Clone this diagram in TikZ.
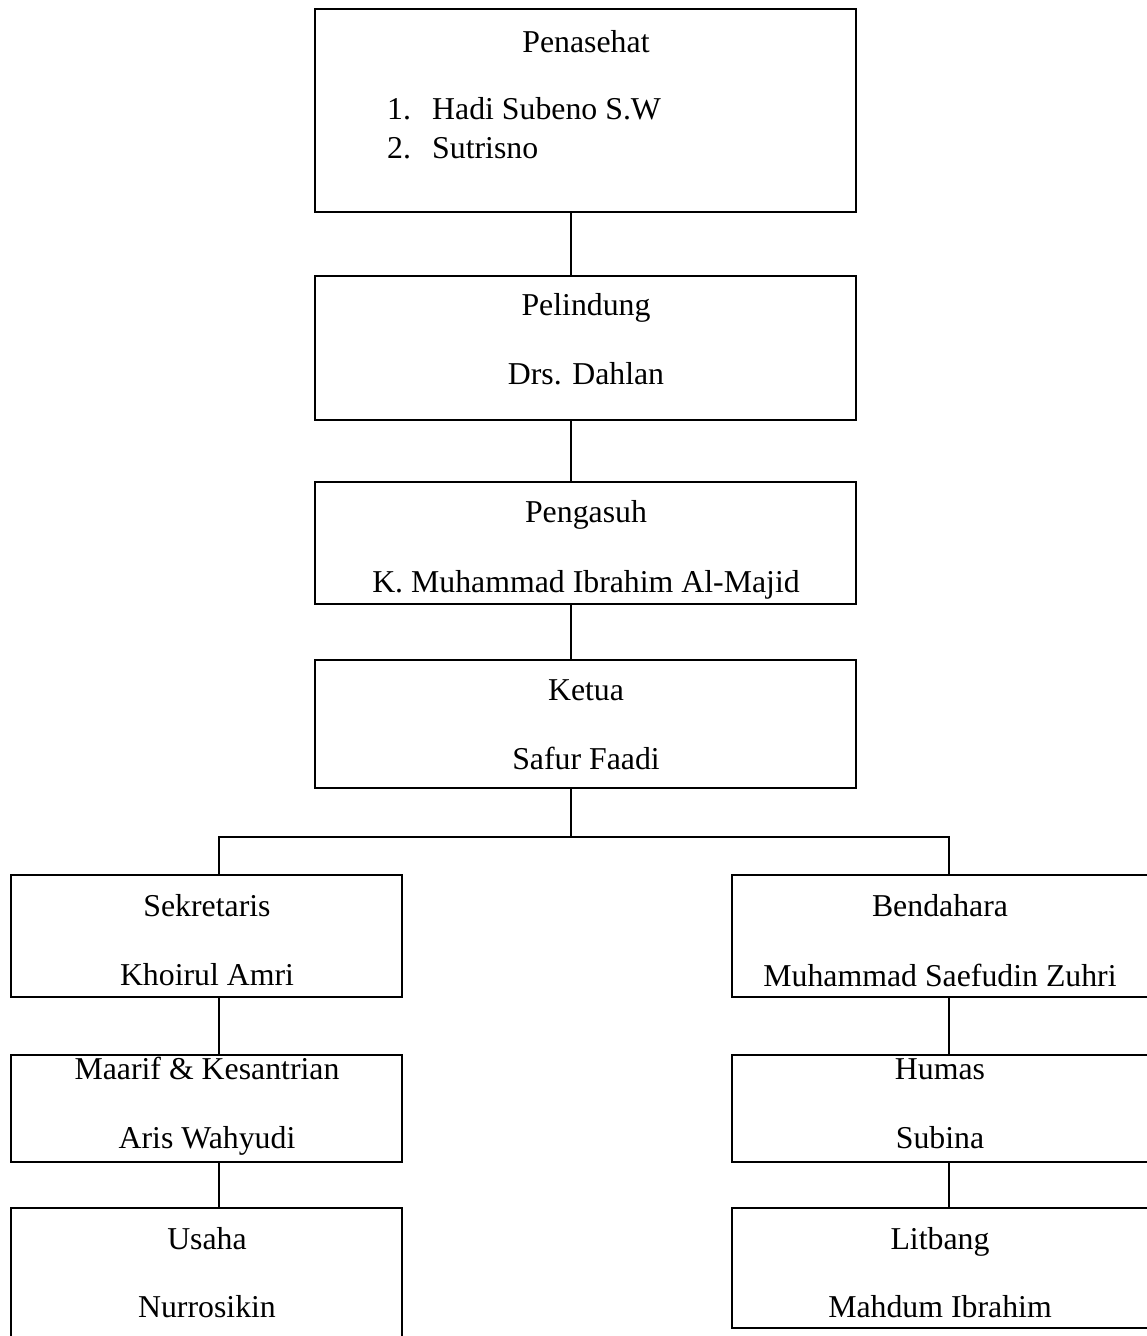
\documentclass[tikz,border=0pt]{standalone}
\usepackage{fontspec}
\setmainfont{Liberation Serif}
\begin{document}
\begin{tikzpicture}[x=1pt,y=-1pt,
  box/.style={draw,line width=1.6pt,rectangle,inner sep=0pt},
  txt/.style={font=\fontsize{31.8}{38}\selectfont,inner sep=0pt,anchor=base},
  txtl/.style={font=\fontsize{31.8}{38}\selectfont,inner sep=0pt,anchor=base west},
  conn/.style={line width=1.6pt}]
\useasboundingbox (0,0) rectangle (1147,1336);
\clip (0,0) rectangle (1147,1336);
% boxes
\node[box,minimum width=541pt,minimum height=203pt] (pen) at (585.5,110.5) {};
\node[box,minimum width=541pt,minimum height=144pt] (pel) at (585.5,348) {};
\node[box,minimum width=541pt,minimum height=122pt] (peng) at (585.5,543) {};
\node[box,minimum width=541pt,minimum height=128pt] (ket) at (585.5,724) {};
\node[box,minimum width=391pt,minimum height=122pt] (sek) at (206.5,936) {};
\node[box,minimum width=420pt,minimum height=122pt] (ben) at (942,936) {};
\node[box,minimum width=391pt,minimum height=107pt] (maa) at (206.5,1108.5) {};
\node[box,minimum width=420pt,minimum height=107pt] (hum) at (942,1108.5) {};
\node[box,minimum width=391pt,minimum height=140pt] (usa) at (206.5,1278) {};
\node[box,minimum width=420pt,minimum height=120pt] (lit) at (942,1268) {};
% texts
\node[txt] (t1) at (586,52) {Penasehat};
\node[txtl] (t2a) at (387,119) {1.};
\node[txtl] (t2b) at (432,119) {Hadi Subeno S.W};
\node[txtl] (t3a) at (387,158) {2.};
\node[txtl] (t3b) at (432,158) {Sutrisno};
\node[txt] (t4) at (586,315) {Pelindung};
\node[txt] (t5) at (586,384) {Drs. Dahlan};
\node[txt] (t6) at (586,522) {Pengasuh};
\node[txt] (t7) at (586,592) {K. Muhammad Ibrahim Al-Majid};
\node[txt] (t8) at (586,700) {Ketua};
\node[txt] (t9) at (586,769) {Safur Faadi};
\node[txt] (t10) at (207,916) {Sekretaris};
\node[txt] (t11) at (207,985) {Khoirul Amri};
\node[txt] (t12) at (940,916) {Bendahara};
\node[txt] (t13) at (940,986) {Muhammad Saefudin Zuhri};
\node[txt] (t14) at (207,1079) {Maarif \& Kesantrian};
\node[txt] (t15) at (207,1148) {Aris Wahyudi};
\node[txt] (t16) at (940,1079) {Humas};
\node[txt] (t17) at (940,1148) {Subina};
\node[txt] (t18) at (207,1249) {Usaha};
\node[txt] (t19) at (207,1317) {Nurrosikin};
\node[txt] (t20) at (940,1249) {Litbang};
\node[txt] (t21) at (940,1317) {Mahdum Ibrahim};
% connectors
\coordinate (spine) at (571,0);
\coordinate (lsp) at (219,0);
\coordinate (rsp) at (949,0);
\coordinate (bar) at (0,837);
\draw[conn] (pen.south -| spine) -- (pel.north -| spine);
\draw[conn] (pel.south -| spine) -- (peng.north -| spine);
\draw[conn] (peng.south -| spine) -- (ket.north -| spine);
\draw[conn] (ket.south -| spine) -- (bar -| spine);
\draw[conn] (sek.north -| lsp) -- (bar -| lsp) -- (bar -| rsp) -- (ben.north -| rsp);
\draw[conn] (sek.south -| lsp) -- (maa.north -| lsp);
\draw[conn] (maa.south -| lsp) -- (usa.north -| lsp);
\draw[conn] (ben.south -| rsp) -- (hum.north -| rsp);
\draw[conn] (hum.south -| rsp) -- (lit.north -| rsp);
\end{tikzpicture}
\end{document}
